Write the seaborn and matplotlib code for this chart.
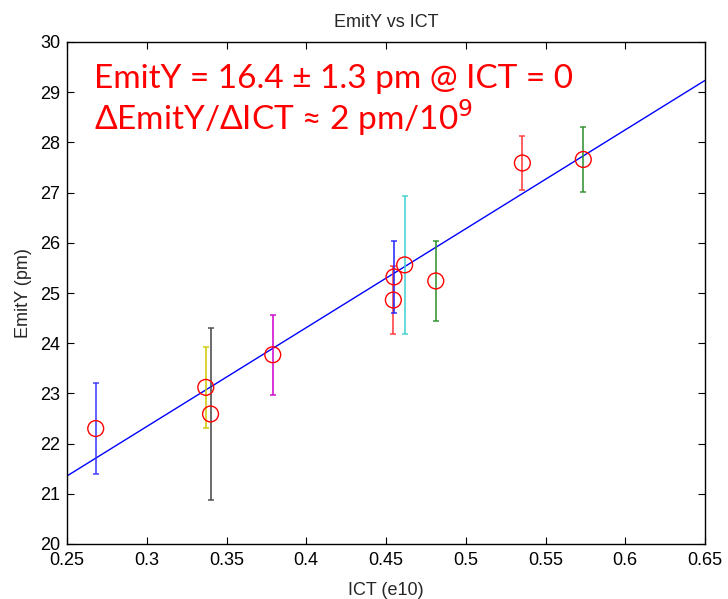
import numpy as np
import pandas as pd
import matplotlib
matplotlib.use("Agg")
import matplotlib.pyplot as plt
import seaborn as sns

# Data
ict = [0.268, 0.337, 0.340, 0.379, 0.4546, 0.455, 0.4617, 0.4812, 0.5355, 0.5737]
emity = [22.30, 23.12, 22.59, 23.77, 24.86, 25.32, 25.56, 25.24, 27.59, 27.66]
err = [0.90, 0.81, 1.72, 0.80, 0.67, 0.715, 1.37, 0.80, 0.53, 0.64]
bar_colors = ["#3535ff", "#d0c800", "#444444", "#cc00cc", "#ff3535",
              "#2020ff", "#40d0d0", "#2a8f2a", "#ff3535", "#2a8f2a"]
fit_intercept = 16.43
fit_slope = 19.7
fit_x = [0.25, 0.65]

sns.set_style("ticks")
plt.rcParams["font.family"] = ["Liberation Sans", "DejaVu Sans"]

fig = plt.figure(figsize=(7.28, 5.99), dpi=100)
ax = fig.add_axes([67 / 728, 1 - 544 / 599, (705 - 67) / 728, (544 - 42) / 599])

df = pd.DataFrame({"ICT": ict, "EmitY": emity, "err": err})
line_df = pd.DataFrame({"x": fit_x, "y": [fit_intercept + fit_slope * v for v in fit_x]})

sns.lineplot(data=line_df, x="x", y="y", color="#0000ff", linewidth=1.0, ax=ax, zorder=2)

for xi, yi, ei, c in zip(ict, emity, err, bar_colors):
    ax.errorbar(xi, yi, yerr=ei, fmt="none", ecolor=c, elinewidth=1.3,
                capsize=2.5, capthick=1.2, alpha=0.85, zorder=3)

sns.scatterplot(data=df, x="ICT", y="EmitY", marker="o", s=130,
                facecolors="none", edgecolor="#ff0000", linewidth=1.0, ax=ax, zorder=4)

ax.set_xlim(0.25, 0.65)
ax.set_ylim(20, 30)
ax.set_xticks([0.25, 0.3, 0.35, 0.4, 0.45, 0.5, 0.55, 0.6, 0.65])
ax.set_xticklabels(["0.25", "0.3", "0.35", "0.4", "0.45", "0.5", "0.55", "0.6", "0.65"])
ax.set_yticks(range(20, 31))
ax.tick_params(direction="in", top=True, right=True, length=5, width=0.8,
               labelsize=13, colors="black")
ax.tick_params(axis="x", pad=6)
ax.tick_params(axis="y", pad=5)
for s in ax.spines.values():
    s.set_linewidth(1.0)
    s.set_color("black")
    s.set_visible(True)

ax.set_xlabel("ICT (e10)", fontsize=13, labelpad=9)
ax.set_ylabel("EmitY (pm)", fontsize=13, labelpad=6)
ax.set_title("EmitY vs ICT", fontsize=13, pad=11)

ax.text(0.042, 0.908, "EmitY = 16.4 \u00b1 1.3 pm @ ICT = 0", transform=ax.transAxes,
        color="red", fontsize=24, family=["Lato", "DejaVu Sans"], va="baseline", ha="left")
ax.text(0.042, 0.825, "\u0394EmitY/\u0394ICT \u2248 2 pm/10$^9$", transform=ax.transAxes,
        color="red", fontsize=24, family=["Lato", "DejaVu Sans"], va="baseline", ha="left")

fig.savefig("out.png", dpi=100)
